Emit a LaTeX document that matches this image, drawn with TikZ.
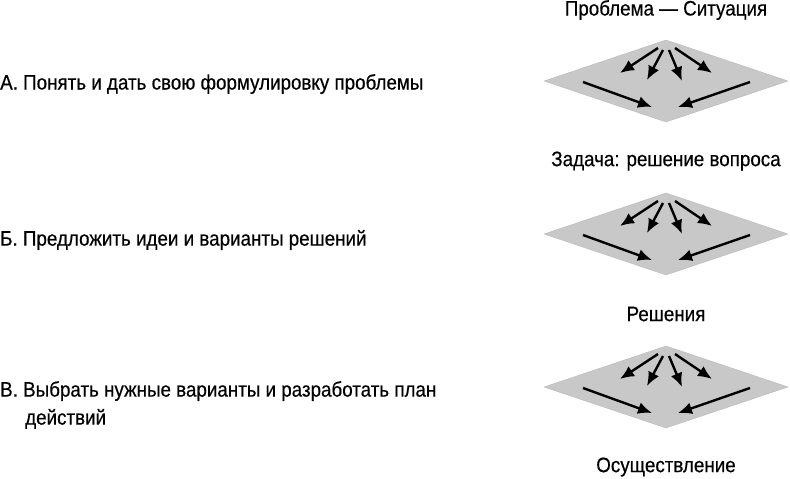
\documentclass[tikz,border=0pt]{standalone}
\usepackage{fontspec}
\setmainfont{Liberation Sans}[FakeStretch=0.895,FakeBold=0.4]
\usetikzlibrary{arrows.meta}
\definecolor{dgray}{RGB}{200,200,200}
\tikzset{
  lbl/.style={inner sep=0pt, font=\fontsize{21}{28}\selectfont},
  arr/.style={line width=2.4pt, -{Latex[length=14pt,width=12pt]}},
  plate/.style={fill=dgray, draw=gray!60, line width=0.3pt}
}
\newcommand{\plateat}[2]{%
  \begin{scope}[shift={(#1,#2)}]
    \path[plate] (-122,0) -- (0,-41) -- (122,0) -- (0,41) -- cycle;
    \draw[arr] (-8,-33) -- (-46,-8);
    \draw[arr] (-3,-31) -- (-19,-1);
    \draw[arr] (3,-31) -- (16,0);
    \draw[arr] (9,-33) -- (46,-8);
    \draw[arr] (-83,1) -- (-14,26);
    \draw[arr] (84,1) -- (12,26);
  \end{scope}}
\begin{document}
\begin{tikzpicture}[x=1pt,y=-1pt]
\useasboundingbox (0,0) rectangle (790,479);
\plateat{666}{81}
\plateat{666}{234}
\plateat{666}{387}
\node[lbl] (t1) at (666,10) {Проблема — Ситуация};
\node[lbl] (t2) at (666,161) {Задача: решение вопроса};
\node[lbl] (t3) at (666,314) {Решения};
\node[lbl] (t4) at (666,467) {Осуществление};
\node[lbl, anchor=west] (a) at (0,84) {А. Понять и дать свою формулировку проблемы};
\node[lbl, anchor=west] (b) at (0,240) {Б. Предложить идеи и варианты решений};
\node[lbl, anchor=north west, align=left] (c) at (0,381) {В. Выбрать нужные варианты и разработать план\\\hspace*{25pt}действий};
\end{tikzpicture}
\end{document}
